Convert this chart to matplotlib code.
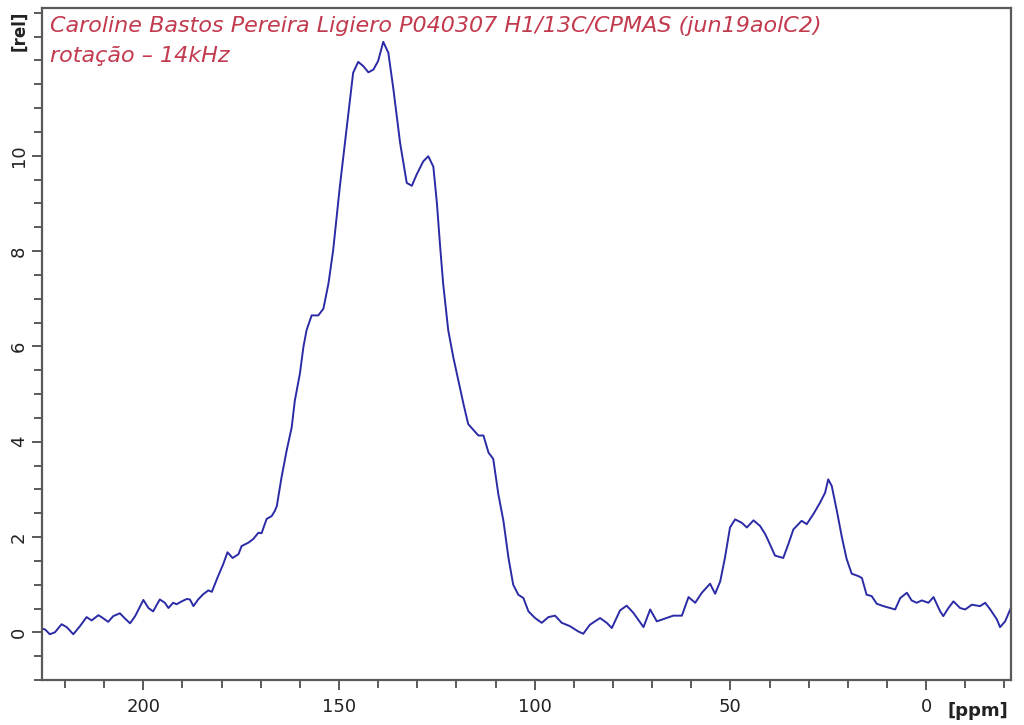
import matplotlib
matplotlib.use("Agg")
import matplotlib.pyplot as plt
from matplotlib.ticker import MultipleLocator, FixedLocator
import matplotlib.transforms as mtransforms

# Spectrum (chemical shift in ppm, relative intensity)
ppm = [226.4, 225.1, 223.9, 222.6, 220.9, 219.6, 217.9, 216.2, 214.5, 213.2,
       211.5, 210.7, 209.0, 207.7, 206.0, 204.7, 203.4, 202.1, 200.0, 198.7,
       197.5, 195.8, 194.5, 193.6, 192.4, 191.5, 190.2, 188.9, 188.1, 187.2,
       186.0, 184.7, 183.4, 182.5, 180.9, 179.6, 178.5, 177.2, 175.7, 174.9,
       173.2, 171.9, 170.6, 169.8, 168.5, 167.2, 166.4, 165.9, 164.7, 163.4,
       162.1, 161.3, 160.0, 159.1, 158.3, 157.0, 155.3, 154.0, 152.7, 151.5,
       149.8, 148.0, 146.4, 145.1, 143.8, 142.5, 141.2, 140.0, 138.7, 137.4,
       136.1, 134.4, 132.7, 131.4, 130.2, 128.5, 127.2, 125.9, 125.0, 124.2,
       123.4, 122.1, 120.8, 119.5, 118.2, 117.0, 114.4, 113.1, 111.8, 110.6,
       109.3, 108.0, 106.7, 105.5, 104.2, 102.9, 101.6, 99.9, 98.2, 96.5,
       94.8, 93.1, 91.0, 88.9, 87.6, 85.9, 83.3, 81.6, 80.3, 78.2,
       76.5, 74.8, 72.2, 70.5, 68.8, 66.7, 64.6, 62.4, 60.7, 59.0,
       57.3, 55.2, 53.9, 52.6, 51.4, 50.1, 48.8, 47.1, 45.8, 44.1,
       42.4, 41.1, 40.3, 38.6, 36.5, 35.2, 33.9, 31.8, 30.5, 28.8,
       27.1, 25.8, 25.0, 24.1, 22.8, 21.5, 20.3, 19.0, 17.3, 16.4,
       15.2, 13.9, 12.6, 10.9, 7.9, 6.6, 4.9, 3.7, 2.4, 1.1,
       -0.6, -1.9, -3.6, -4.4, -5.7, -7.0, -8.7, -10.0, -11.7, -13.8,
       -15.1, -16.4, -18.1, -18.9, -20.2, -21.5]
intensity = [0.09, 0.06, -0.04, 0.00, 0.17, 0.11, -0.04, 0.13, 0.32, 0.25,
             0.36, 0.32, 0.22, 0.34, 0.40, 0.29, 0.19, 0.34, 0.68, 0.51,
             0.44, 0.69, 0.62, 0.51, 0.62, 0.59, 0.65, 0.70, 0.69, 0.55,
             0.69, 0.80, 0.88, 0.85, 1.18, 1.43, 1.68, 1.56, 1.64, 1.81,
             1.88, 1.96, 2.09, 2.08, 2.38, 2.44, 2.55, 2.65, 3.25, 3.81,
             4.30, 4.86, 5.43, 5.99, 6.34, 6.65, 6.65, 6.79, 7.32, 8.02,
             9.35, 10.62, 11.74, 11.97, 11.88, 11.75, 11.81, 11.99, 12.39, 12.16,
             11.39, 10.27, 9.43, 9.37, 9.60, 9.88, 9.99, 9.77, 9.01, 8.13,
             7.32, 6.34, 5.77, 5.28, 4.79, 4.37, 4.13, 4.13, 3.77, 3.64,
             2.90, 2.34, 1.56, 1.00, 0.79, 0.72, 0.44, 0.30, 0.20, 0.32,
             0.35, 0.20, 0.13, 0.02, -0.03, 0.16, 0.30, 0.20, 0.09, 0.46,
             0.56, 0.41, 0.11, 0.48, 0.23, 0.29, 0.35, 0.35, 0.74, 0.62,
             0.83, 1.02, 0.81, 1.07, 1.56, 2.20, 2.37, 2.30, 2.20, 2.35,
             2.23, 2.06, 1.92, 1.61, 1.56, 1.85, 2.16, 2.34, 2.27, 2.48,
             2.72, 2.93, 3.21, 3.07, 2.55, 1.99, 1.54, 1.23, 1.18, 1.14,
             0.79, 0.76, 0.60, 0.55, 0.48, 0.72, 0.83, 0.67, 0.62, 0.67,
             0.62, 0.74, 0.44, 0.34, 0.51, 0.65, 0.51, 0.48, 0.58, 0.55,
             0.62, 0.48, 0.27, 0.11, 0.23, 0.48]

y_label_ticks = [0, 2, 4, 6, 8, 10]
x_label_ticks = [200, 150, 100, 50, 0]

title_lines = ["Caroline Bastos Pereira Ligiero P040307 H1/13C/CPMAS (jun19aolC2)",
               "rotação – 14kHz"]

fig = plt.figure(figsize=(10.24, 7.25), dpi=100)
ax = fig.add_axes([42 / 1024, 45 / 725, (1011 - 42) / 1024, (717 - 45) / 725])

ax.plot(ppm, intensity, color="#2b2ba6", lw=1.4)

ax.set_xlim(225.9, -21.7)
ax.set_ylim(-1.0, 13.1)

ax.xaxis.set_major_locator(FixedLocator(x_label_ticks))
ax.xaxis.set_minor_locator(MultipleLocator(10))
ax.yaxis.set_major_locator(FixedLocator(y_label_ticks))
ax.yaxis.set_minor_locator(MultipleLocator(0.5))

spine_col = "#5a5a5a"
for s in ax.spines.values():
    s.set_color(spine_col)
    s.set_linewidth(1.6)

ax.tick_params(axis="both", which="major", direction="out", length=7, width=1.4,
               color=spine_col, labelsize=13, labelcolor="#222222")
ax.tick_params(axis="both", which="minor", direction="out", length=6, width=1.4,
               color=spine_col)
ax.tick_params(axis="x", which="both", top=False)
ax.tick_params(axis="y", which="both", right=False)
ax.tick_params(axis="x", which="major", pad=6)
ax.tick_params(axis="y", which="major", pad=3)
for lab in ax.get_yticklabels():
    lab.set_rotation(90)
    lab.set_va("center")

# unit labels
trans = mtransforms.blended_transform_factory(ax.transData, ax.transAxes)
ax.text(-13.2, -0.032, "[ppm]", transform=trans, ha="center", va="top",
        fontsize=13, fontweight="bold", color="#222222")
fig.text(19 / 1024, 1 - 31 / 725, "[rel]", rotation=90, ha="center", va="center",
         fontsize=12, fontweight="bold", color="#222222")

# annotation text
ax.text(0.008, 0.988, title_lines[0], transform=ax.transAxes, ha="left", va="top",
        fontsize=16, style="italic", color="#c23a4e")
ax.text(0.008, 0.944, title_lines[1], transform=ax.transAxes, ha="left", va="top",
        fontsize=16, style="italic", color="#c23a4e")

fig.savefig("out.png", dpi=100, facecolor="white")
